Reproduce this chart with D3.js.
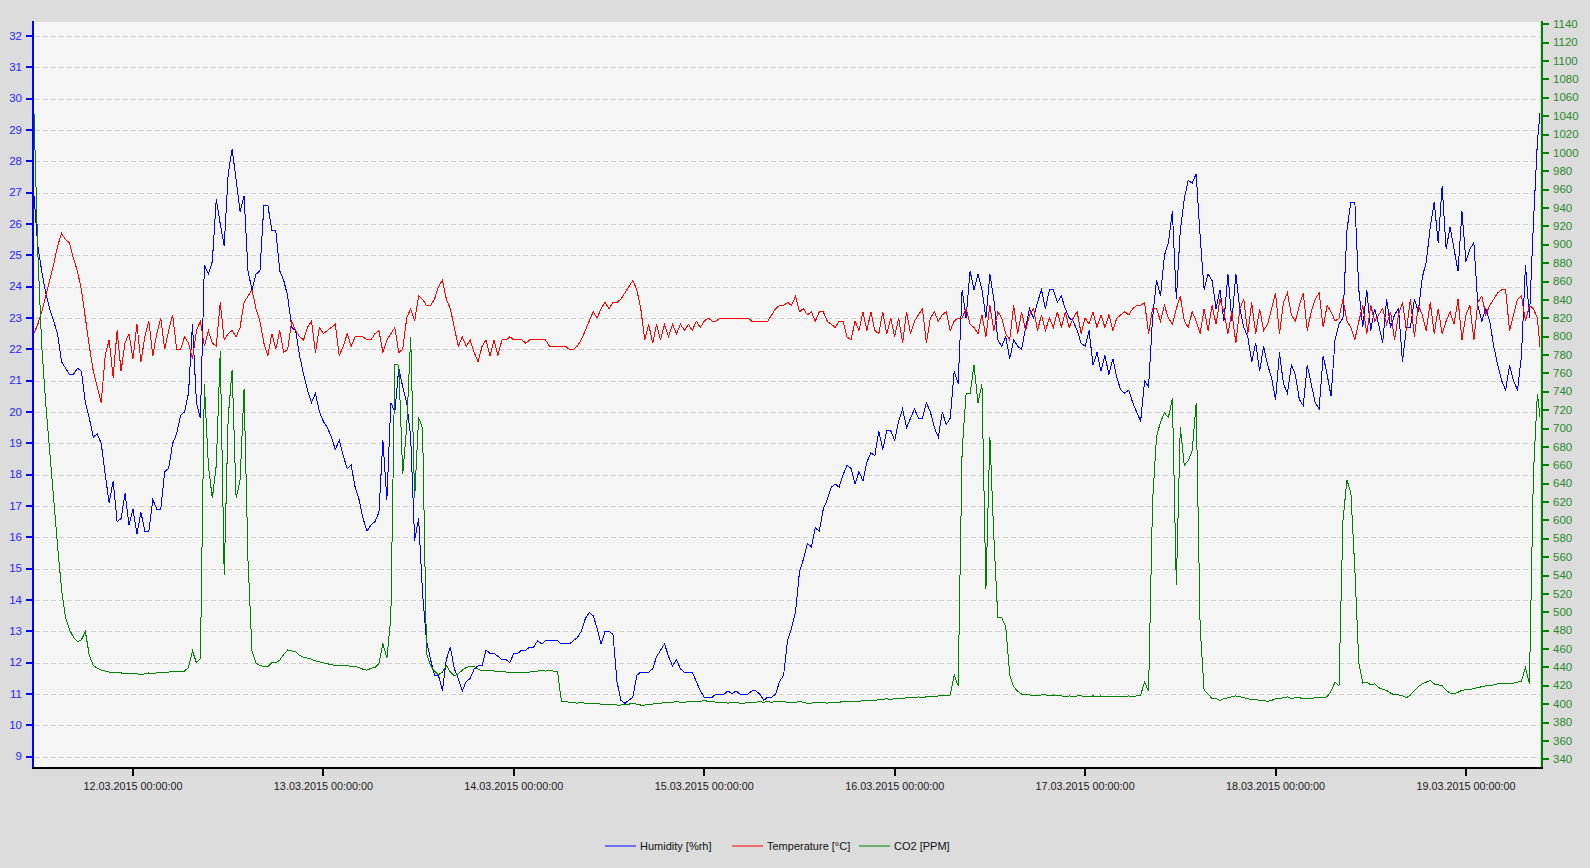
<!DOCTYPE html>
<html>
<head>
<meta charset="utf-8">
<script src="https://cdn.jsdelivr.net/npm/d3@7"></script>
<style>
  html, body { margin: 0; padding: 0; background: #dcdcdc; }
  svg { display: block; }
</style>
</head>
<body>
<svg id="root"></svg>
<script>
// readings every 30 minutes starting 11.03.2015 11:30
const startTime = new Date(2015, 2, 11, 11, 30);
const stepMinutes = 30;

const seriesNames = ["Humidity [%rh]", "Temperature [°C]", "CO2 [PPM]"];

const humidity = [
  27.0, 25.3, 24.5, 23.8, 23.3, 22.9, 22.5, 21.6, 21.4, 21.2,
  21.2, 21.4, 21.3, 20.3, 19.8, 19.2, 19.3, 19.0, 18.0, 17.1,
  17.8, 16.5, 16.6, 17.4, 16.4, 16.9, 16.1, 16.8, 16.2, 16.2,
  17.2, 16.9, 16.9, 18.1, 18.2, 19.0, 19.3, 19.9, 20.0, 20.6,
  22.8, 20.3, 19.8, 24.7, 24.4, 24.8, 26.8, 26.0, 25.3, 27.6,
  28.4, 27.4, 26.4, 26.9, 24.5, 23.9, 24.4, 24.5, 26.6, 26.6,
  25.8, 25.8, 24.5, 24.2, 23.7, 22.7, 22.6, 21.8, 21.2, 20.7,
  20.3, 20.6, 20.0, 19.7, 19.5, 19.2, 18.8, 19.1, 18.6, 18.2,
  18.3, 17.6, 17.2, 16.6, 16.2, 16.4, 16.5, 16.8, 19.1, 17.2,
  20.3, 20.0, 21.4, 20.8, 20.3, 19.2, 15.9, 16.6, 14.2, 12.7,
  12.1, 11.6, 11.6, 11.1, 12.1, 12.5, 11.8, 11.5, 11.1, 11.4,
  11.5, 11.8, 11.9, 11.9, 12.4, 12.3, 12.3, 12.2, 12.1, 12.1,
  12.0, 12.3, 12.3, 12.4, 12.4, 12.5, 12.5, 12.7, 12.6, 12.7,
  12.7, 12.7, 12.7, 12.6, 12.6, 12.6, 12.7, 12.8, 13.0, 13.4,
  13.6, 13.5, 13.1, 12.6, 13.0, 13.0, 12.9, 11.4, 10.8, 10.7,
  10.8, 10.9, 11.6, 11.7, 11.7, 11.7, 11.8, 12.2, 12.4, 12.6,
  12.2, 11.9, 12.1, 11.8, 11.7, 11.7, 11.7, 11.4, 11.1, 10.9,
  10.9, 10.9, 11.0, 11.0, 11.0, 11.1, 11.0, 11.1, 11.0, 11.0,
  11.0, 11.1, 11.1, 11.0, 10.8, 10.9, 10.9, 11.0, 11.4, 11.6,
  12.7, 13.1, 13.6, 14.9, 15.3, 15.8, 15.7, 16.3, 16.2, 16.9,
  17.2, 17.6, 17.7, 17.6, 18.0, 18.3, 18.2, 17.7, 18.1, 17.8,
  18.4, 18.7, 18.6, 19.4, 18.8, 19.4, 19.4, 19.1, 19.7, 20.1,
  19.5, 19.8, 20.1, 19.8, 19.8, 20.3, 20.0, 19.5, 19.2, 20.0,
  19.6, 19.8, 21.3, 20.9, 23.9, 23.0, 24.5, 23.9, 24.4, 23.9,
  23.0, 24.4, 23.6, 22.3, 22.1, 22.4, 21.7, 22.3, 22.1, 22.0,
  22.7, 23.3, 23.0, 23.5, 23.9, 23.3, 23.9, 23.9, 23.5, 23.7,
  23.3, 23.0, 22.9, 22.6, 22.2, 22.1, 22.6, 21.5, 21.9, 21.3,
  21.8, 21.2, 21.7, 21.1, 20.7, 20.6, 20.7, 20.3, 20.0, 19.7,
  21.0, 20.8, 23.0, 24.2, 23.7, 25.0, 25.4, 26.4, 23.6, 25.8,
  26.8, 27.4, 27.3, 27.6, 25.6, 23.9, 24.4, 24.2, 23.3, 23.9,
  22.9, 24.4, 22.9, 24.4, 23.3, 22.7, 22.4, 21.6, 22.2, 21.3,
  22.1, 21.5, 21.1, 20.4, 21.9, 20.9, 20.6, 21.5, 21.2, 20.4,
  20.2, 21.5, 20.9, 20.3, 20.1, 21.8, 21.2, 20.5, 22.3, 22.8,
  23.0, 25.8, 26.7, 26.7, 23.9, 22.7, 23.9, 22.6, 23.3, 22.8,
  22.2, 23.6, 22.7, 23.1, 23.3, 21.6, 22.7, 22.7, 23.6, 23.2,
  24.3, 24.8, 25.9, 26.7, 25.4, 27.2, 25.2, 25.9, 25.2, 24.5,
  26.4, 24.8, 25.2, 25.4, 23.4, 22.9, 23.3, 22.9, 22.1, 21.5,
  21.0, 20.7, 21.5, 21.0, 20.7, 21.8, 24.7, 23.0, 26.0, 28.6,
  30.0
];

const temperature = [
  22.5, 22.8, 23.2, 23.7, 24.2, 24.7, 25.3, 25.7, 25.5, 25.4,
  24.9, 24.5, 23.9, 23.0, 22.1, 21.3, 20.8, 20.3, 21.8, 22.3,
  21.1, 22.6, 21.3, 22.2, 22.5, 21.7, 22.8, 21.6, 22.4, 22.9,
  21.8, 22.5, 23.0, 22.0, 22.6, 23.1, 22.0, 22.0, 22.4, 22.2,
  21.7, 22.6, 22.9, 22.1, 22.6, 22.2, 22.1, 23.5, 22.3, 22.5,
  22.6, 22.4, 22.7, 23.5, 23.7, 23.9, 23.3, 22.9, 22.2, 21.8,
  22.5, 22.0, 22.6, 21.9, 22.0, 22.9, 22.6, 22.4, 22.3, 22.7,
  22.9, 21.9, 22.7, 22.5, 22.6, 22.7, 22.8, 21.8, 22.1, 22.5,
  22.1, 22.4, 22.4, 22.4, 22.3, 22.3, 22.5, 22.6, 21.9, 22.3,
  22.5, 22.7, 21.9, 22.0, 23.0, 23.3, 22.9, 23.7, 23.6, 23.4,
  23.4, 23.6, 24.0, 24.2, 23.6, 23.3, 22.7, 22.1, 22.4, 22.1,
  22.3, 21.9, 21.6, 22.1, 22.3, 21.8, 22.3, 21.8, 22.3, 22.3,
  22.4, 22.3, 22.3, 22.3, 22.2, 22.3, 22.3, 22.3, 22.3, 22.3,
  22.1, 22.1, 22.1, 22.1, 22.1, 22.0, 22.0, 22.1, 22.3, 22.6,
  22.9, 23.2, 23.0, 23.3, 23.5, 23.3, 23.5, 23.5, 23.6, 23.8,
  24.0, 24.2, 23.9, 23.3, 22.3, 22.8, 22.2, 22.8, 22.3, 22.8,
  22.4, 22.8, 22.5, 22.8, 22.6, 22.8, 22.6, 22.9, 22.7, 22.9,
  23.0, 22.9, 22.9, 23.0, 23.0, 23.0, 23.0, 23.0, 23.0, 23.0,
  23.0, 22.9, 22.9, 22.9, 22.9, 22.9, 23.1, 23.3, 23.4, 23.4,
  23.5, 23.4, 23.7, 23.2, 23.3, 23.1, 23.2, 22.9, 23.2, 23.2,
  22.9, 22.8, 22.7, 22.9, 22.9, 22.4, 22.3, 22.9, 22.6, 23.2,
  22.6, 23.2, 22.6, 22.5, 23.2, 22.5, 23.0, 22.4, 23.0, 22.2,
  23.2, 22.5, 22.9, 23.1, 23.3, 22.2, 23.0, 23.2, 22.9, 23.1,
  23.2, 22.6, 22.9, 23.0, 23.0, 23.3, 22.8, 22.7, 22.5, 23.1,
  22.4, 23.4, 22.6, 23.2, 23.0, 22.5, 22.3, 23.4, 22.5, 23.2,
  22.6, 23.1, 23.3, 22.6, 23.1, 22.6, 23.0, 22.7, 23.2, 22.7,
  23.2, 22.7, 23.0, 23.2, 22.5, 23.0, 22.8, 23.2, 22.7, 23.1,
  22.7, 23.1, 22.6, 23.0, 23.1, 23.2, 23.1, 23.3, 23.4, 23.4,
  23.5, 22.5, 23.3, 23.3, 22.9, 23.4, 23.0, 22.8, 23.3, 23.7,
  22.9, 22.7, 23.2, 22.9, 22.5, 23.3, 22.6, 23.4, 22.8, 23.6,
  23.2, 22.5, 23.2, 22.2, 23.3, 23.6, 22.5, 23.5, 22.5, 23.3,
  22.6, 22.8, 23.3, 23.8, 22.5, 23.5, 23.8, 23.1, 22.9, 23.4,
  23.8, 22.6, 23.2, 23.6, 23.8, 22.7, 23.4, 23.2, 22.9, 23.0,
  23.6, 22.9, 22.7, 22.3, 22.9, 23.4, 22.5, 23.4, 22.9, 23.1,
  23.3, 22.8, 23.2, 22.3, 23.1, 23.5, 22.6, 23.6, 22.4, 23.4,
  23.1, 22.6, 23.5, 22.5, 23.3, 22.5, 22.9, 23.2, 22.8, 23.6,
  22.3, 23.1, 23.4, 22.3, 23.5, 23.7, 23.1, 23.4, 23.6, 23.8,
  23.9, 23.9, 22.6, 23.1, 23.6, 23.7, 22.9, 23.4, 23.3, 23.0,
  21.6
];

const co2 = [
  1052, 893, 790, 728, 676, 624, 572, 525, 494, 481,
  473, 468, 470, 479, 453, 442, 439, 437, 436, 435,
  434, 435, 434, 433, 433, 434, 433, 432, 433, 434,
  433, 434, 435, 434, 435, 436, 436, 436, 436, 440,
  458, 445, 450, 748, 660, 624, 660, 784, 541, 712,
  764, 624, 644, 743, 556, 458, 445, 442, 441, 441,
  445, 445, 448, 454, 459, 458, 457, 453, 451, 450,
  449, 447, 446, 445, 444, 443, 442, 442, 442, 442,
  441, 441, 440, 438, 437, 439, 440, 444, 466, 450,
  494, 770, 769, 650, 702, 800, 624, 712, 700, 455,
  442, 436, 432, 435, 442, 435, 431, 433, 437, 440,
  441, 441, 438, 436, 437, 437, 436, 436, 436, 435,
  435, 434, 434, 434, 434, 435, 436, 436, 437, 436,
  437, 436, 436, 403, 403, 402, 402, 401, 402, 401,
  401, 401, 401, 400, 400, 400, 400, 399, 399, 400,
  400, 401, 400, 399, 399, 400, 400, 401, 401, 402,
  402, 402, 403, 402, 402, 403, 403, 403, 403, 404,
  403, 403, 402, 402, 402, 401, 402, 402, 401, 401,
  402, 402, 402, 403, 402, 403, 402, 403, 403, 403,
  402, 402, 402, 403, 402, 401, 401, 402, 402, 402,
  401, 402, 402, 402, 403, 403, 403, 403, 403, 404,
  404, 404, 404, 405, 405, 406, 405, 406, 406, 406,
  407, 407, 407, 408, 407, 408, 408, 408, 409, 409,
  409, 410, 432, 420, 676, 738, 738, 769, 728, 748,
  525, 691, 582, 494, 494, 484, 432, 419, 414, 411,
  410, 410, 409, 409, 410, 410, 409, 410, 409, 409,
  408, 409, 408, 409, 409, 408, 408, 409, 408, 409,
  408, 408, 408, 408, 408, 408, 409, 408, 409, 410,
  424, 414, 620, 691, 707, 717, 712, 733, 530, 702,
  660, 665, 676, 728, 484, 415, 411, 406, 406, 404,
  406, 407, 408, 409, 408, 407, 406, 405, 405, 404,
  404, 403, 404, 406, 406, 407, 408, 406, 407, 407,
  406, 406, 406, 407, 407, 407, 408, 414, 424, 420,
  600, 644, 630, 546, 445, 423, 424, 421, 422, 418,
  416, 415, 412, 410, 410, 409, 407, 410, 415, 419,
  422, 424, 426, 422, 421, 420, 415, 412, 411, 413,
  415, 416, 416, 417, 418, 419, 420, 420, 421, 422,
  422, 422, 423, 423, 424, 425, 440, 422, 650, 738,
  700
];

const leftTicks = [9, 10, 11, 12, 13, 14, 15, 16, 17, 18, 19, 20, 21, 22, 23, 24, 25, 26, 27, 28, 29, 30, 31, 32];
const rightTicks = [340, 360, 380, 400, 420, 440, 460, 480, 500, 520, 540, 560, 580, 600, 620, 640, 660, 680,
  700, 720, 740, 760, 780, 800, 820, 840, 860, 880, 900, 920, 940, 960, 980, 1000, 1020, 1040, 1060, 1080,
  1100, 1120, 1140];
const dateTicks = ["12.03.2015 00:00:00", "13.03.2015 00:00:00", "14.03.2015 00:00:00", "15.03.2015 00:00:00",
  "16.03.2015 00:00:00", "17.03.2015 00:00:00", "18.03.2015 00:00:00", "19.03.2015 00:00:00"];

const draw = () => {
  const width = 1590,
    height = 868;
  const left = 33,
    right = 1540,
    top = 22,
    bottom = 767;
  const font = "'Liberation Sans', Arial, sans-serif";

  const parse = d3.timeParse("%d.%m.%Y %H:%M:%S");
  const format = d3.timeFormat("%d.%m.%Y %H:%M:%S");

  const svg = d3
    .select("svg#root")
    .attr("width", width)
    .attr("height", height)
    .style("font-family", font);

  svg.append("rect").attr("width", width).attr("height", height).attr("fill", "#dcdcdc");
  svg
    .append("rect")
    .attr("x", left)
    .attr("y", top)
    .attr("width", right - left)
    .attr("height", bottom - top)
    .attr("fill", "#f5f5f5");

  const x = d3
    .scaleTime()
    .domain([new Date(2015, 2, 11, 11, 24), new Date(2015, 2, 19, 9, 20)])
    .range([left, right]);
  const yLeft = d3.scaleLinear().domain([8.671, 32.447]).range([bottom, top]);
  const yRight = d3.scaleLinear().domain([331.6, 1142.5]).range([bottom, top]);

  // dashed grid on the left scale
  svg
    .append("g")
    .selectAll("line")
    .data(leftTicks)
    .join("line")
    .attr("x1", left + 2)
    .attr("x2", right)
    .attr("y1", (d) => Math.round(yLeft(d)) + 0.5)
    .attr("y2", (d) => Math.round(yLeft(d)) + 0.5)
    .attr("stroke", "#d0d0d0")
    .attr("stroke-dasharray", "5,3");

  // series
  const times = humidity.map((_, i) => d3.timeMinute.offset(startTime, i * stepMinutes));

  svg
    .append("clipPath")
    .attr("id", "plotclip")
    .append("rect")
    .attr("x", left + 1)
    .attr("y", top)
    .attr("width", right - left - 1)
    .attr("height", bottom - top);

  const series = [
    { values: humidity, y: yLeft, color: "#0000ff" },
    { values: temperature, y: yLeft, color: "#ff0000" },
    { values: co2, y: yRight, color: "#008000" },
  ];

  const lines = svg.append("g").attr("clip-path", "url(#plotclip)");
  for (const s of series) {
    const line = d3
      .line()
      .x((d, i) => x(times[i]))
      .y((d) => s.y(d));
    lines
      .append("path")
      .attr("d", line(s.values))
      .attr("fill", "none")
      .attr("stroke", s.color)
      .attr("stroke-width", 1)
      .attr("shape-rendering", "crispEdges");
  }

  // left axis
  const gl = svg.append("g").attr("transform", `translate(${left},0)`);
  gl.call(
    d3.axisLeft(yLeft).tickValues(leftTicks.slice(0, -1).map((d) => d + 0.5)).tickSize(5).tickFormat("").tickSizeOuter(0).offset(0)
  );
  gl.call(d3.axisLeft(yLeft).tickValues(leftTicks).tickSize(7).tickPadding(4).tickSizeOuter(0).offset(0));
  gl.selectAll(".domain").remove();
  gl.selectAll(".tick line").attr("stroke", "#0000ff").attr("stroke-width", 2).attr("shape-rendering", "crispEdges");
  gl.selectAll(".tick text").attr("fill", "#2626ff").attr("font-size", "11.5px").attr("font-family", font);
  gl.append("line").attr("x1", 0).attr("x2", 0).attr("y1", top - 1).attr("y2", bottom + 1)
    .attr("stroke", "#0000ff").attr("stroke-width", 2);

  // right axis
  const gr = svg.append("g").attr("transform", `translate(${right + 2},0)`);
  gr.call(
    d3.axisRight(yRight).tickValues(rightTicks.slice(0, -1).map((d) => d + 10)).tickSize(4).tickFormat("").tickSizeOuter(0).offset(0)
  );
  gr.call(
    d3.axisRight(yRight).tickValues(rightTicks).tickSize(7).tickPadding(4).tickFormat(d3.format("d")).tickSizeOuter(0).offset(0)
  );
  gr.selectAll(".domain").remove();
  gr.selectAll(".tick line").attr("stroke", "#008000").attr("stroke-width", 2).attr("shape-rendering", "crispEdges");
  gr.selectAll(".tick text").attr("fill", "#2a8a2a").attr("font-size", "11.5px").attr("font-family", font);
  gr.append("line").attr("x1", 0).attr("x2", 0).attr("y1", top - 1).attr("y2", bottom + 1)
    .attr("stroke", "#008000").attr("stroke-width", 2);

  // bottom axis
  const majors = dateTicks.map(parse);
  const minors = majors.map((d) => d3.timeHour.offset(d, -12));
  const gb = svg.append("g").attr("transform", `translate(0,${bottom + 1})`);
  gb.call(d3.axisBottom(x).tickValues(minors).tickSize(5).tickFormat("").tickSizeOuter(0).offset(0));
  gb.call(d3.axisBottom(x).tickValues(majors).tickSize(8).tickPadding(6).tickFormat(format).tickSizeOuter(0).offset(0));
  gb.selectAll(".domain").remove();
  gb.selectAll(".tick line").attr("stroke", "#000").attr("stroke-width", 2).attr("shape-rendering", "crispEdges");
  gb.selectAll(".tick text").attr("fill", "#1a1a1a").attr("font-size", "10.8px").attr("font-family", font);
  gb.append("line").attr("x1", left - 1).attr("x2", right + 3).attr("y1", 0).attr("y2", 0)
    .attr("stroke", "#000").attr("stroke-width", 2);

  // legend
  const legendX = [605, 732, 859];
  const legend = svg
    .append("g")
    .selectAll("g")
    .data(series)
    .join("g")
    .attr("transform", (d, i) => `translate(${legendX[i]},846)`);
  legend
    .append("line")
    .attr("x1", 0)
    .attr("x2", 31)
    .attr("stroke", (d) => d.color)
    .attr("stroke-width", 1);
  legend
    .append("text")
    .attr("x", 35)
    .attr("dy", "0.35em")
    .attr("font-size", "11px")
    .attr("fill", "#111")
    .text((d, i) => seriesNames[i]);

  return svg.node();
};

draw();
</script>
</body>
</html>
